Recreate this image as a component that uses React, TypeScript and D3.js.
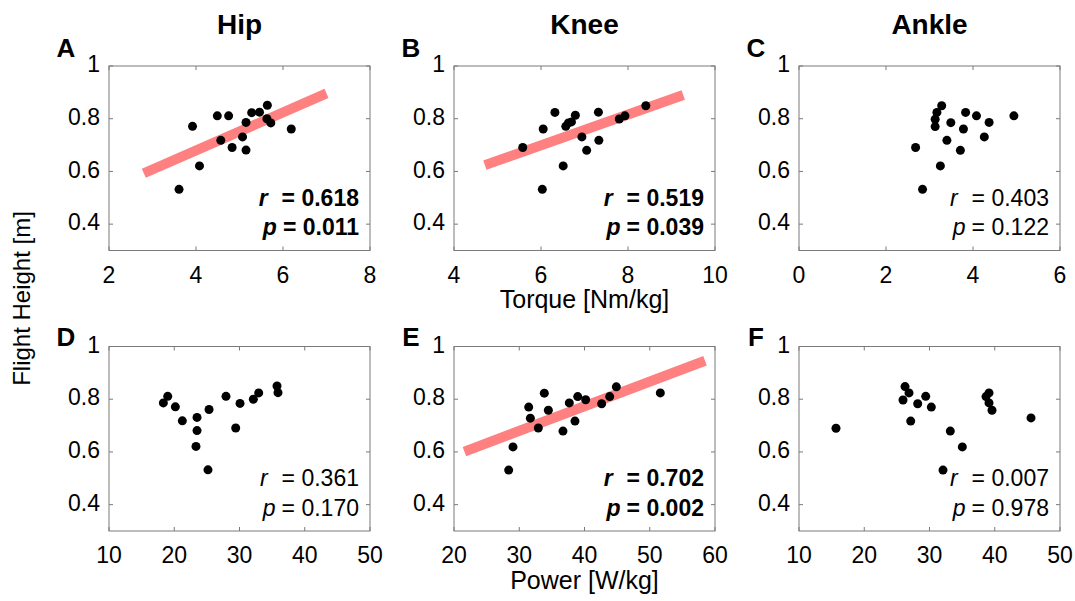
import React from 'react'
import * as d3 from 'd3'

// flight height vs torque / power, one panel per joint

const jointTitles = ['Hip', 'Knee', 'Ankle']
const panelLetters = ['A', 'B', 'C', 'D', 'E', 'F']

const yTicks = [0.4, 0.6, 0.8, 1]
const torqueTicks = [[2, 4, 6, 8], [4, 6, 8, 10], [0, 2, 4, 6]]
const powerTicks = [[10, 20, 30, 40, 50], [20, 30, 40, 50, 60], [10, 20, 30, 40, 50]]

// torque panels (x in Nm/kg, y in m)
const hipTorqueX = [3.61, 3.92, 4.08, 4.49, 4.75, 4.57, 4.83, 5.15, 5.07, 5.15, 5.28, 5.46, 5.64, 5.63, 5.72, 6.19]
const hipTorqueY = [0.532, 0.771, 0.621, 0.811, 0.811, 0.718, 0.691, 0.786, 0.731, 0.681, 0.823, 0.825, 0.851, 0.8, 0.784, 0.761]
const kneeTorqueX = [5.58, 6.05, 6.03, 6.32, 6.51, 6.57, 6.63, 6.7, 6.79, 6.94, 7.05, 7.32, 7.33, 7.8, 7.93, 8.41]
const kneeTorqueY = [0.691, 0.761, 0.532, 0.824, 0.621, 0.771, 0.784, 0.788, 0.813, 0.731, 0.68, 0.825, 0.718, 0.799, 0.811, 0.849]
const ankleTorqueX = [2.68, 2.84, 3.25, 3.13, 3.13, 3.17, 3.28, 3.4, 3.49, 3.71, 3.78, 3.83, 4.08, 4.26, 4.37, 4.94]
const ankleTorqueY = [0.691, 0.532, 0.621, 0.77, 0.798, 0.824, 0.849, 0.718, 0.785, 0.68, 0.761, 0.824, 0.811, 0.731, 0.786, 0.811]

// power panels (x in W/kg)
const hipPowerX = [18.33, 19.0, 20.17, 21.24, 23.49, 23.49, 23.33, 25.17, 25.33, 27.93, 29.42, 30.08, 32.12, 32.94, 35.75, 35.9]
const hipPowerY = [0.786, 0.811, 0.771, 0.718, 0.731, 0.681, 0.621, 0.532, 0.761, 0.811, 0.691, 0.784, 0.8, 0.824, 0.85, 0.825]
const kneePowerX = [28.38, 29.04, 31.45, 31.7, 32.92, 33.84, 34.46, 36.7, 37.67, 38.54, 38.96, 40.18, 42.63, 43.86, 44.88, 51.62]
const kneePowerY = [0.531, 0.619, 0.77, 0.728, 0.691, 0.823, 0.758, 0.679, 0.786, 0.717, 0.81, 0.798, 0.783, 0.81, 0.847, 0.824]
const anklePowerX = [15.67, 25.94, 26.25, 26.86, 27.12, 28.19, 29.42, 30.28, 32.07, 33.19, 35.03, 38.66, 39.12, 39.12, 39.58, 45.56]
const anklePowerY = [0.69, 0.797, 0.848, 0.824, 0.717, 0.783, 0.811, 0.77, 0.531, 0.679, 0.619, 0.81, 0.824, 0.786, 0.758, 0.729]

const rValues = ['0.618', '0.519', '0.403', '0.361', '0.702', '0.007']
const pValues = ['0.011', '0.039', '0.122', '0.170', '0.002', '0.978']
const significant = [true, true, false, false, true, false]

// fitted lines drawn only where significant: [x0, y0, x1, y1]
const fitLines = [
  [2.8, 0.593, 7.0, 0.896],
  [4.71, 0.624, 9.27, 0.89],
  null,
  null,
  [21.6, 0.601, 58.47, 0.946],
  null,
]

const FONT = '"Liberation Sans", Arial, Helvetica, sans-serif'
const colLeft = [109, 454, 799]
const rowTop = [66, 346.5]
const letterDy = [-9, -1]
const W = 261
const H = 184.5
const axisColor = '#7a7a7a'

function Panel(props) {
  const { idx } = props
  const row = Math.floor(idx / 3)
  const col = idx % 3
  const ticks = row === 0 ? torqueTicks[col] : powerTicks[col]
  const xs = [[hipTorqueX, kneeTorqueX, ankleTorqueX], [hipPowerX, kneePowerX, anklePowerX]][row][col]
  const ys = [[hipTorqueY, kneeTorqueY, ankleTorqueY], [hipPowerY, kneePowerY, anklePowerY]][row][col]

  const x = d3.scaleLinear().domain([ticks[0], ticks[ticks.length - 1]]).range([0, W])
  const y = d3.scaleLinear().domain([0.3, 1]).range([H, 0])
  const fit = fitLines[idx]
  const weight = significant[idx] ? 'bold' : 'normal'
  const tl = 4

  return (
    <g transform={'translate(' + colLeft[col] + ',' + rowTop[row] + ')'}>
      <text x={-43} y={letterDy[row]} fontSize={26} fontWeight="bold" textAnchor="middle">{panelLetters[idx]}</text>
      {fit && (
        <line x1={x(fit[0])} y1={y(fit[1])} x2={x(fit[2])} y2={y(fit[3])}
          stroke="#ff8080" strokeWidth={10} />
      )}
      {xs.map((v, i) => (
        <circle key={i} cx={x(v)} cy={y(ys[i])} r={4.5} fill="#000" />
      ))}
      <rect x={0} y={0} width={W} height={H} fill="none" stroke={axisColor} strokeWidth={1} />
      {ticks.map((t) => (
        <g key={'x' + t}>
          <line x1={x(t)} x2={x(t)} y1={H} y2={H - tl} stroke={axisColor} />
          <line x1={x(t)} x2={x(t)} y1={0} y2={tl} stroke={axisColor} />
          <text x={x(t)} y={H + 26} fontSize={23} textAnchor="middle" dominantBaseline="middle">{t}</text>
        </g>
      ))}
      {yTicks.map((t) => (
        <g key={'y' + t}>
          <line x1={0} x2={tl} y1={y(t)} y2={y(t)} stroke={axisColor} />
          <line x1={W} x2={W - tl} y1={y(t)} y2={y(t)} stroke={axisColor} />
          <text x={-9} y={y(t)} fontSize={23} textAnchor="end" dominantBaseline="middle">{t}</text>
        </g>
      ))}
      <text x={W - 11} y={H - 45} fontSize={23} fontWeight={weight} textAnchor="end">
        <tspan fontStyle="italic">r</tspan>
        <tspan dx={14}>= {rValues[idx]}</tspan>
      </text>
      <text x={W - 11} y={H - 15.5} fontSize={23} fontWeight={weight} textAnchor="end">
        <tspan fontStyle="italic">p</tspan>
        <tspan dx={6}>= {pValues[idx]}</tspan>
      </text>
    </g>
  )
}

export default function App() {
  return (
    <svg width={1075} height={601} style={{ display: 'block', position: 'absolute', left: 0, top: 0 }}
      fontFamily={FONT} fill="#000">
      <rect width={1075} height={601} fill="#fff" />
      {jointTitles.map((t, i) => (
        <text key={t} x={colLeft[i] + W / 2} y={27} fontSize={28} fontWeight="bold"
          textAnchor="middle" dominantBaseline="middle">{t}</text>
      ))}
      {panelLetters.map((l, i) => <Panel key={l} idx={i} />)}
      <text x={colLeft[1] + W / 2} y={rowTop[0] + H + 51} fontSize={25}
        textAnchor="middle" dominantBaseline="middle">Torque [Nm/kg]</text>
      <text x={colLeft[1] + W / 2} y={rowTop[1] + H + 51} fontSize={25}
        textAnchor="middle" dominantBaseline="middle">Power [W/kg]</text>
      <text transform={'translate(24,' + (rowTop[0] + rowTop[1] + H) / 2 + ') rotate(-90)'}
        fontSize={24} textAnchor="middle" dominantBaseline="middle">Flight Height [m]</text>
    </svg>
  )
}
